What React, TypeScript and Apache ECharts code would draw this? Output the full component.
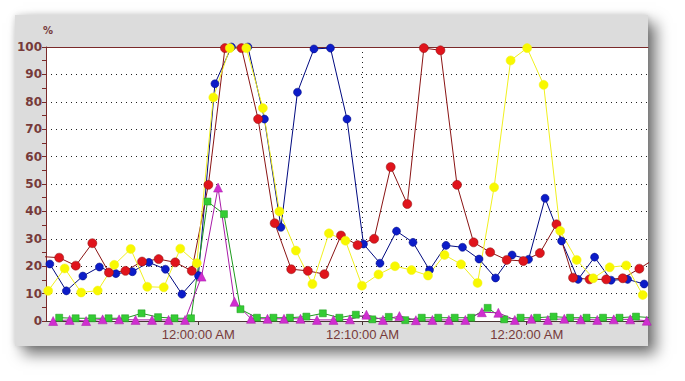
import React, { useEffect, useRef } from 'react';
import * as echarts from 'echarts';

// x values are seconds after 12:00:00 AM
const X_TICKS = [0, 600, 1200];
const X_MIN = -556;
const X_MAX = 1643;

const BLUE_START = -542;
const BLUE_STEP = 60.3;
const BLUE = [20.8, 11.0, 16.4, 19.7, 17.3, 18.0, 21.4, 18.9, 9.8, 16.6, 86.6, 100, 100, 73.7, 34.2, 83.5, 99.3, 99.6, 73.7, 28.1, 21.1, 32.8, 28.7, 18.6, 27.6, 26.9, 22.6, 15.7, 24.1, 22.5, 44.8, 29.2, 15.2, 23.3, 14.9, 15.2, 13.5];

const RED_START = -568.4;
const RED_STEP = 60.55;
const RED = [23.5, 23.1, 20.2, 28.4, 17.7, 18.3, 21.7, 22.6, 21.4, 18.3, 49.7, 99.6, 99.6, 73.7, 35.7, 18.9, 18.3, 17.1, 31.2, 27.7, 30.0, 56.2, 42.7, 99.6, 98.8, 49.7, 28.7, 25.1, 22.3, 21.9, 24.8, 35.3, 15.8, 15.2, 15.2, 15.6, 19.1, 23.0];

const YELLOW_START = -548.1;
const YELLOW_STEP = 60.33;
const YELLOW = [11.0, 19.2, 10.4, 11.1, 20.5, 26.3, 12.5, 12.3, 26.4, 21.1, 81.6, 99.6, 99.6, 77.7, 40.0, 25.7, 13.5, 32.0, 29.3, 12.9, 17.0, 20.0, 18.6, 16.6, 24.1, 20.7, 13.9, 48.8, 95.1, 99.6, 86.2, 32.9, 22.3, 15.6, 19.6, 20.3, 9.5];

const GREEN_START = -507.9;
const GREEN_STEP = 60.2;
const GREEN = [1.2, 1.0, 1.0, 1.0, 1.0, 2.8, 1.4, 1.0, 1.0, 43.6, 39.0, 4.3, 1.2, 1.2, 1.2, 1.6, 2.8, 1.2, 2.3, 0.6, 1.5, 0.3, 1.2, 1.2, 1.2, 1.2, 4.8, 0.6, 1.2, 1.2, 1.6, 1.2, 1.2, 1.2, 1.2, 1.6, 1.2];

const MAGENTA_START = -529.9;
const MAGENTA_STEP = 60.23;
const MAGENTA = [0, 0.4, 0, 0.6, 0.6, 0.4, 0.4, 0.4, 0.4, 16.2, 48.7, 7.0, 0.8, 0.8, 0.8, 0.8, 0.4, 0.4, 0.6, 2.3, 0.4, 1.8, 0.3, 0.4, 0.4, 0.4, 3.2, 3.0, 0.4, 0.8, 0.4, 0.8, 0.6, 0.4, 0.6, 0.6, 0.1];

const Y_MIN = 0;
const Y_MAX = 100;
const Y_INTERVAL = 10;

const LABEL_COLOR = '#763a3a';
const FONT = '"Liberation Sans", Arial, sans-serif';
const Y_FONT = '"DejaVu Sans", Verdana, sans-serif';

function pad(n: number) {
  return n < 10 ? '0' + n : '' + n;
}

function fmtTime(sec: number) {
  const s = ((Math.round(sec) % 86400) + 86400) % 86400;
  const h = Math.floor(s / 3600);
  const m = Math.floor((s % 3600) / 60);
  const ss = s % 60;
  const h12 = h % 12 === 0 ? 12 : h % 12;
  return `${h12}:${pad(m)}:${pad(ss)} ${h < 12 ? 'AM' : 'PM'}`;
}

function toPairs(start: number, step: number, vals: number[]) {
  return vals.map((v, i) => [start + i * step, v]);
}

function mkSeries(name: string, start: number, step: number, vals: number[], fill: string, line: string, symbol: string, size: number) {
  return {
    name,
    type: 'line',
    data: toPairs(start, step, vals),
    symbol,
    symbolSize: size,
    showSymbol: true,
    clip: true,
    itemStyle: { color: fill, borderColor: line, borderWidth: 0.5 },
    lineStyle: { color: line, width: 1 },
    emphasis: { disabled: true },
  };
}

export default function App() {
  const ref = useRef<HTMLDivElement>(null);
  useEffect(() => {
    if (!ref.current) return;
    const chart = echarts.init(ref.current, undefined, { renderer: 'svg' });
    chart.setOption({
      animation: false,
      backgroundColor: 'transparent',
      title: {
        text: '%',
        left: 43,
        top: 25,
        padding: 0,
        textStyle: { fontSize: 10, color: LABEL_COLOR, fontWeight: 'bold', fontFamily: Y_FONT },
      },
      grid: {
        left: 46,
        right: 37,
        top: 47,
        bottom: 60,
        show: true,
        backgroundColor: '#ffffff',
        borderWidth: 0,
      },
      xAxis: [
        {
          type: 'value',
          min: X_MIN,
          max: X_MAX,
          axisLine: { show: true, onZero: false, lineStyle: { color: '#4a3434', width: 1 } },
          axisTick: { show: true, length: 4, customValues: X_TICKS, lineStyle: { color: '#4a3434' } },
          axisLabel: {
            customValues: X_TICKS,
            formatter: (v: number) => fmtTime(v),
            color: LABEL_COLOR,
            fontSize: 13,
            fontFamily: FONT,
            margin: 7,
          },
          splitLine: { show: true, showMinLine: false, showMaxLine: false, lineStyle: { type: [1, 4], color: '#222222', width: 1 } },
        },
        {
          type: 'value',
          position: 'top',
          min: X_MIN,
          max: X_MAX,
          axisLine: { show: true, onZero: false, lineStyle: { color: '#7a2a2a', width: 1 } },
          axisTick: { show: false },
          axisLabel: { show: false },
          splitLine: { show: false },
        },
      ],
      yAxis: {
        type: 'value',
        min: Y_MIN,
        max: Y_MAX,
        interval: Y_INTERVAL,
        axisLine: { show: true, onZero: false, lineStyle: { color: '#7a2a2a', width: 1 } },
        axisTick: { show: true, length: 4, lineStyle: { color: '#7a2a2a' } },
        minorTick: { show: true, splitNumber: 2, length: 4, lineStyle: { color: '#7a2a2a' } },
        axisLabel: { color: LABEL_COLOR, fontSize: 12, fontWeight: 'bold', fontFamily: Y_FONT, margin: 4 },
        splitLine: { show: true, showMinLine: false, showMaxLine: false, lineStyle: { type: [1, 4], color: '#222222', width: 1 } },
      },
      series: [
        mkSeries('blue', BLUE_START, BLUE_STEP, BLUE, '#0c1cc8', '#000a80', 'circle', 8),
        mkSeries('red', RED_START, RED_STEP, RED, '#e0141c', '#8a1414', 'circle', 9),
        mkSeries('yellow', YELLOW_START, YELLOW_STEP, YELLOW, '#f8f800', '#f0f020', 'circle', 9),
        mkSeries('green', GREEN_START, GREEN_STEP, GREEN, '#34cc34', '#1e9a1e', 'rect', 7),
        mkSeries('magenta', MAGENTA_START, MAGENTA_STEP, MAGENTA, '#d02ed0', '#a81ca8', 'triangle', 9),
      ],
    });
    return () => chart.dispose();
  }, []);

  return (
    <div style={{ position: 'fixed', left: 0, top: 0, width: 685, height: 381, background: '#ffffff', overflow: 'hidden' }}>
      <div
        style={{
          position: 'absolute',
          left: 15,
          top: 15,
          width: 633,
          height: 331,
          background: '#dcdcdc',
          boxShadow: '0 0 6px rgba(0,0,0,0.15), 8px 8px 14px rgba(0,0,0,0.55)',
        }}
      />
      <div ref={ref} style={{ position: 'absolute', left: 0, top: 0, width: 685, height: 381 }} />
    </div>
  );
}
